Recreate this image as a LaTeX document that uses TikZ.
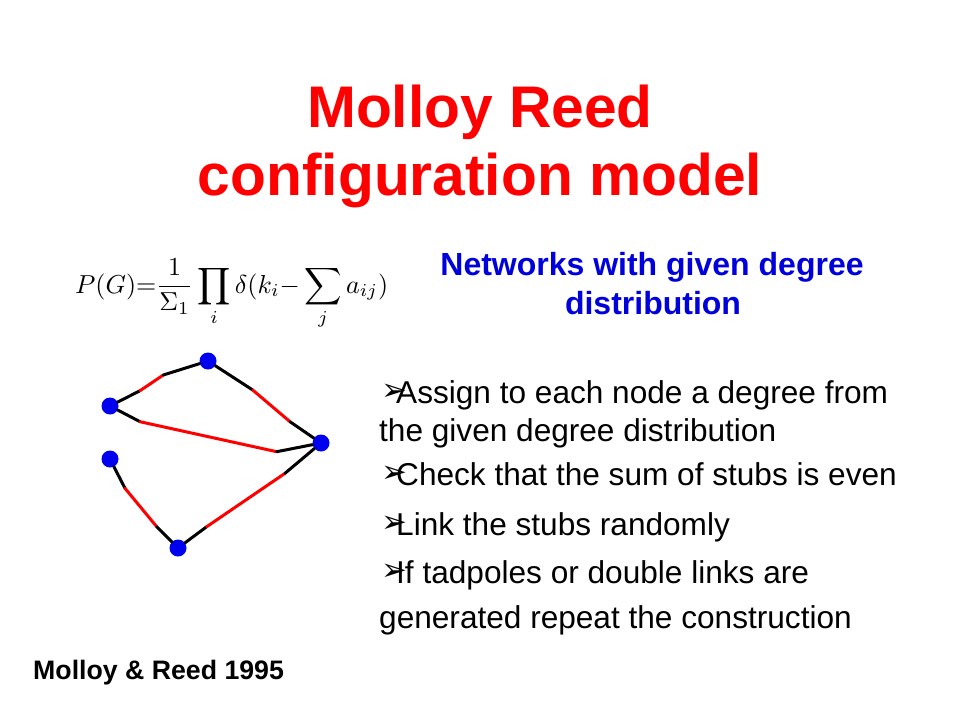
\documentclass[tikz,border=0pt]{standalone}
\usepackage{fontspec}
\setmainfont{Liberation Sans}
\newfontfamily\dejavu{DejaVu Sans}
\definecolor{titlered}{RGB}{255,0,0}
\definecolor{subblue}{RGB}{0,0,220}
\definecolor{vertblue}{RGB}{0,0,240}
\begin{document}
\begin{tikzpicture}[x=1pt,y=-1pt,
  titletext/.style={inner sep=0pt,anchor=base,text=titlered,font=\fontsize{58.7}{70}\selectfont\bfseries},
  subtext/.style={inner sep=0pt,anchor=base,text=subblue,font=\fontsize{32}{38}\selectfont\bfseries},
  bodytext/.style={inner sep=0pt,anchor=base west,text=black,font=\fontsize{31.6}{38}\selectfont},
  bulletmark/.style={inner sep=0pt,anchor=west,text=black,font=\dejavu\fontsize{31}{34}\selectfont},
  vert/.style={circle,fill=vertblue,draw=none,minimum size=17pt,inner sep=0pt},
  stub/.style={draw=black,line width=3pt,line cap=round},
  link/.style={draw=titlered,line width=3pt,line cap=round}]
\useasboundingbox (0,0) rectangle (960,720);
\fill[white] (0,0) rectangle (960,720);

% title
\node[titletext] (t1) at (480,127) {Molloy Reed};
\node[titletext] (t2) at (480,195) {configuration model};

% subtitle
\node[subtext] (s1) at (652,275) {Networks with given degree};
\node[subtext] (s2) at (653,314) {distribution};

% formula
\node[inner sep=0pt,anchor=base west] (f) at (75,293)
  {\resizebox{313pt}{!}{$\displaystyle P(G){=}\frac{1}{\Sigma_1}\prod_i\delta(k_i{-}\sum_j a_{ij})$}};

% bullet list
\node[bulletmark] (m1) at (381,392) {➢};
\node[bodytext] (l1) at (396,403) {Assign to each node a degree from};
\node[bodytext] (l1b) at (379,441) {the given degree distribution};
\node[bulletmark] (m2) at (381,474) {➢};
\node[bodytext] (l2) at (396,485) {Check that the sum of stubs is even};
\node[bulletmark] (m3) at (381,524) {➢};
\node[bodytext] (l3) at (396,535) {Link the stubs randomly};
\node[bulletmark] (m4) at (381,572) {➢};
\node[bodytext] (l4) at (396,583) {If tadpoles or double links are};
\node[bodytext] (l4b) at (379,628) {generated repeat the construction};

% reference
\node[inner sep=0pt,anchor=base west,font=\fontsize{26.7}{30}\selectfont\bfseries] (ref) at (33,679) {Molloy \& Reed 1995};

% graph vertices
\node[vert] (A) at (208,361) {};
\node[vert] (B) at (110,406) {};
\node[vert] (C) at (321,443) {};
\node[vert] (D) at (110,459) {};
\node[vert] (E) at (178,548) {};

% bend points
\coordinate (ba1) at (140,390.7);
\coordinate (ba2) at (163.3,375);
\coordinate (ac1) at (252.7,390);
\coordinate (ac2) at (290,421.7);
\coordinate (bc1) at (140,421.7);
\coordinate (bc2) at (276.7,451.7);
\coordinate (de1) at (125,488.3);
\coordinate (de2) at (156.7,526.7);
\coordinate (ec1) at (206.7,526.7);
\coordinate (ec2) at (285,473.3);

% edges: black stubs joined by a red link
\draw[stub] (B) -- (ba1);
\draw[link] (ba1) -- (ba2);
\draw[stub] (ba2) -- (A);

\draw[stub] (A) -- (ac1);
\draw[link] (ac1) -- (ac2);
\draw[stub] (ac2) -- (C);

\draw[stub] (B) -- (bc1);
\draw[link] (bc1) -- (bc2);
\draw[stub] (bc2) -- (C);

\draw[stub] (D) -- (de1);
\draw[link] (de1) -- (de2);
\draw[stub] (de2) -- (E);

\draw[stub] (E) -- (ec1);
\draw[link] (ec1) -- (ec2);
\draw[stub] (ec2) -- (C);
\end{tikzpicture}
\end{document}
